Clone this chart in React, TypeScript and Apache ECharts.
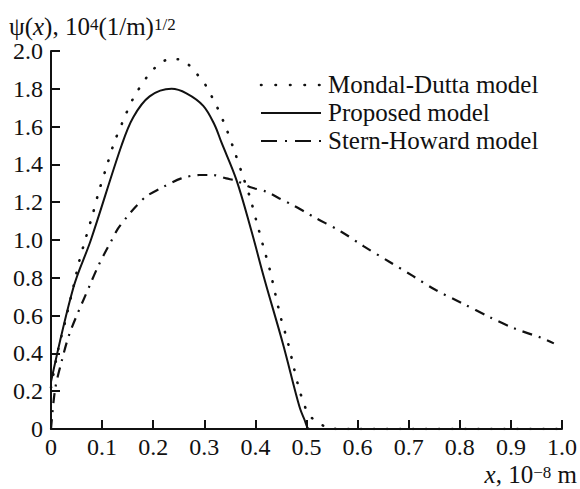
import React, { useEffect, useRef } from "react";
import * as echarts from "echarts";

const FONT = "'Liberation Serif', 'Times New Roman', serif";

const xTicks = [0, 0.1, 0.2, 0.3, 0.4, 0.5, 0.6, 0.7, 0.8, 0.9, 1.0];
const yTicks = [0, 0.2, 0.4, 0.6, 0.8, 1.0, 1.2, 1.4, 1.6, 1.8, 2.0];

const seriesNames = ["Mondal-Dutta model", "Proposed model", "Stern-Howard model"];

const mondalDutta: [number, number][] = [
  [0, 0.22], [0.014, 0.42], [0.027, 0.56], [0.044, 0.755], [0.055, 0.885], [0.068, 1.01],
  [0.081, 1.13], [0.094, 1.26], [0.109, 1.39], [0.123, 1.51], [0.141, 1.63], [0.161, 1.75],
  [0.187, 1.86], [0.203, 1.91], [0.223, 1.95], [0.249, 1.956], [0.268, 1.93], [0.285, 1.88],
  [0.3, 1.83], [0.3125, 1.77], [0.324, 1.71], [0.343, 1.59], [0.359, 1.47], [0.374, 1.35],
  [0.39, 1.22], [0.402, 1.1], [0.415, 0.97], [0.428, 0.845], [0.439, 0.714], [0.45, 0.586],
  [0.4635, 0.459], [0.4746, 0.333], [0.486, 0.206], [0.494, 0.144], [0.5026, 0.083],
  [0.519, 0.039], [0.538, 0.012], [0.56, 0], [0.6, 0], [1.0, 0],
];

const proposed: [number, number][] = [
  [0, 0.25], [0.044, 0.75], [0.078, 1.0], [0.138, 1.5], [0.161, 1.65], [0.193, 1.76],
  [0.236, 1.8], [0.265, 1.776], [0.298, 1.71], [0.32, 1.61], [0.333, 1.52], [0.363, 1.317],
  [0.392, 1.05], [0.418, 0.79], [0.454, 0.45], [0.486, 0.12], [0.496, 0.05], [0.506, 0],
  [0.55, 0], [1.0, 0],
];

const sternHoward: [number, number][] = [
  [0, 0], [0.008, 0.21], [0.021, 0.36], [0.037, 0.51], [0.079, 0.78], [0.092, 0.86],
  [0.105, 0.93], [0.117, 0.99], [0.131, 1.06], [0.148, 1.12], [0.167, 1.18], [0.186, 1.23],
  [0.219, 1.28], [0.255, 1.326], [0.291, 1.344], [0.317, 1.344], [0.343, 1.326], [0.366, 1.31],
  [0.389, 1.28], [0.421, 1.256], [0.447, 1.22], [0.473, 1.185], [0.496, 1.15], [0.519, 1.115],
  [0.568, 1.044], [0.613, 0.965], [0.662, 0.885], [0.708, 0.81], [0.753, 0.735], [0.805, 0.665],
  [0.857, 0.594], [0.906, 0.533], [0.962, 0.48], [0.984, 0.453],
];

const fmt = (v: number) => (v === 0 ? "0" : v.toFixed(1));

export default function App() {
  const ref = useRef<HTMLDivElement>(null);
  useEffect(() => {
    if (!ref.current) return;
    const chart = echarts.init(ref.current, null, { renderer: "svg" });
    const dotted = { color: "#111", width: 2.6, type: [0.5, 12.5] as number[], cap: "round" as const };
    const solid = { color: "#111", width: 2, type: "solid" as const };
    const dashDot = { color: "#111", width: 2.2, type: [10, 7, 2, 7] as number[], cap: "butt" as const };
    const styles = [dotted, solid, dashDot];
    const datas = [mondalDutta, proposed, sternHoward];
    const smooths = [0.3, 0.35, 0.3];
    const legendDash = [[0.5, 14], null, [16, 8, 2, 8]];

    const legendGraphics: any[] = [];
    const rowY = [84, 112, 140];
    seriesNames.forEach((name, i) => {
      legendGraphics.push({
        type: "line",
        shape: { x1: 261, y1: rowY[i] + 1, x2: 321, y2: rowY[i] + 1 },
        style: {
          stroke: "#111",
          lineWidth: i === 0 ? 2.6 : 2.2,
          lineDash: legendDash[i] || undefined,
          lineCap: i === 0 ? "round" : "butt",
        },
      });
      legendGraphics.push({
        type: "text",
        x: 328,
        y: rowY[i],
        style: {
          text: name,
          font: `25px ${FONT}`,
          fill: "#111",
          verticalAlign: "middle",
          align: "left",
        },
      });
    });

    const rich = {
      n: { fontFamily: FONT, fontSize: 25, lineHeight: 20, fill: "#111" },
      i: { fontFamily: FONT, fontSize: 25, fontStyle: "italic", lineHeight: 20, fill: "#111" },
      s: { fontFamily: FONT, fontSize: 17, lineHeight: 12, verticalAlign: "top", fill: "#111" },
    };

    chart.setOption({
      animation: false,
      backgroundColor: "#fff",
      grid: { left: 51, right: 17, top: 51, bottom: 60, containLabel: false },
      xAxis: {
        type: "value",
        min: 0,
        max: 1,
        interval: 0.1,
        axisLine: { show: true, onZero: false, lineStyle: { color: "#111", width: 2 } },
        axisTick: { show: true, inside: true, length: 9, lineStyle: { color: "#111", width: 2 } },
        axisLabel: {
          show: true,
          margin: 10,
          lineHeight: 16,
          color: "#111",
          fontFamily: FONT,
          fontSize: 24,
          formatter: (v: number) => (xTicks.some((t) => Math.abs(t - v) < 1e-6) ? fmt(v) : ""),
        },
        splitLine: { show: false },
      },
      yAxis: {
        type: "value",
        min: 0,
        max: 2,
        interval: 0.2,
        axisLine: { show: true, onZero: false, lineStyle: { color: "#111", width: 2 } },
        axisTick: { show: true, inside: true, length: 9, lineStyle: { color: "#111", width: 2 } },
        axisLabel: {
          show: true,
          margin: 8,
          lineHeight: 20,
          color: "#111",
          fontFamily: FONT,
          fontSize: 24,
          formatter: (v: number) => (yTicks.some((t) => Math.abs(t - v) < 1e-6) ? fmt(v) : ""),
        },
        splitLine: { show: false },
      },
      series: seriesNames.map((name, i) => ({
        name,
        type: "line",
        data: datas[i],
        showSymbol: false,
        symbol: "none",
        smooth: smooths[i],
        lineStyle: styles[i],
        z: 3,
      })),
      graphic: [
        {
          type: "text",
          x: 9,
          y: 16,
          style: {
            text: "{n|ψ(}{i|x}{n|), 10}{s|4}{n|(1/m)}{s|1/2}",
            fill: "#111",
            rich,
          },
        },
        {
          type: "text",
          x: 577,
          y: 464,
          style: {
            text: "{i|x}{n|, 10}{s|−8}{n| m}",
            fill: "#111",
            align: "right",
            rich,
          },
        },
        ...legendGraphics,
      ],
    });
    return () => chart.dispose();
  }, []);
  return <div ref={ref} style={{ width: 580, height: 489, position: "absolute", left: 0, top: 0 }} />;
}
